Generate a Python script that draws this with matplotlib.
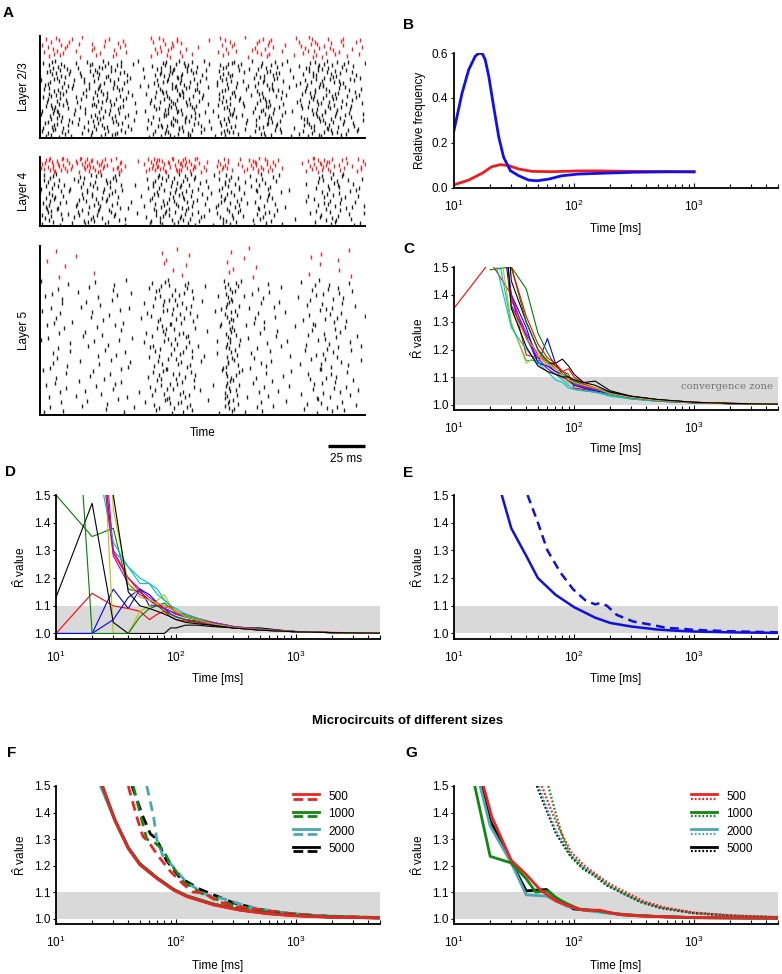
import numpy as np
import matplotlib
matplotlib.use('Agg')
import matplotlib.pyplot as plt
from matplotlib.lines import Line2D

plt.rcParams['font.family'] = ['Liberation Sans', 'DejaVu Sans']
plt.rcParams['mathtext.fontset'] = 'custom'
plt.rcParams['mathtext.rm'] = 'Liberation Sans'
plt.rcParams['mathtext.it'] = 'Liberation Sans:italic'
plt.rcParams['mathtext.bf'] = 'Liberation Sans:bold'
plt.rcParams['font.size'] = 8.5

# ---------------- DATA ----------------
# Panel A: spike counts per 5 ms bin (0-220 ms), read from the raster
raster_bin_ms = 5
L23_black = [15,25,25,18,10,12,15,22,20,18,20,15,6,4,8,15,22,25,25,22,20,15,10,4,20,25,15,10,8,18,22,20,15,6,5,15,20,22,22,20,18,15,12,8]
L23_red   = [3,5,5,4,2,3,1,3,3,2,4,3,0,0,1,4,5,5,4,3,1,1,1,0,4,5,2,1,2,5,5,3,1,1,2,4,5,5,4,4,3,2,2,3]
L4_black  = [12,15,10,6,5,12,12,12,10,12,10,4,2,2,6,12,14,12,14,14,12,8,6,4,12,14,10,6,4,12,10,8,4,2,1,1,3,8,10,12,10,6,6,6]
L4_red    = [6,8,6,6,3,6,8,6,6,3,6,2,0,1,4,8,7,5,7,8,6,4,3,1,6,5,1,3,5,7,5,4,2,0,0,1,5,6,7,4,3,3,2,5]
L5_black  = [8,10,10,8,3,6,8,8,8,8,10,8,4,2,10,18,22,22,22,20,18,6,4,3,10,45,25,6,8,12,10,8,6,5,3,6,12,14,16,14,14,10,6,4]
L5_red    = [1,0,2,1,1,0,0,1,0,0,0,0,0,0,0,0,2,2,1,2,1,0,0,0,0,3,1,1,2,1,0,0,0,0,0,0,2,1,1,0,2,1,1,0]
layer_names = ['Layer 2/3', 'Layer 4', 'Layer 5']

# Panel B
B_blue_t = [10, 11.66, 13.25, 15.0, 16.0, 17.2, 18.2, 19.5, 21.4, 23.6, 25.9, 29.5, 34.6, 41.9, 49.2, 61.5, 79.5, 109, 160, 312, 600, 1000]
B_blue_v = [0.255, 0.42, 0.525, 0.585, 0.598, 0.598, 0.57, 0.495, 0.36, 0.225, 0.135, 0.075, 0.0525, 0.033, 0.03, 0.0375, 0.0525, 0.06, 0.063, 0.068, 0.07, 0.07]
B_red_t = [10, 13.25, 17.2, 20.7, 24.3, 28.6, 34.6, 44.6, 65.6, 109, 164, 300, 600, 1000]
B_red_v = [0.012, 0.033, 0.064, 0.093, 0.102, 0.0975, 0.0825, 0.072, 0.0705, 0.074, 0.074, 0.072, 0.071, 0.07]

# Panels C and D: R-hat of individual chains on a common time grid
T_grid = [10, 20, 30, 40, 50, 60, 70, 80, 90, 100, 120, 150, 200, 300, 500, 1000, 2000, 5000]
chain_colors = ['b', 'g', 'r', 'c', 'm', 'y', 'k']
nan = np.nan
C_chains = [
    [nan, 2.0, 1.36, 1.25, 1.15, 1.24, 1.15, 1.11, 1.09, 1.08, 1.065, 1.05, 1.035, 1.022, 1.012, 1.006, 1.003, 1.001],
    [nan, 1.49, 1.50, 1.42, 1.26, 1.19, 1.14, 1.12, 1.10, 1.085, 1.07, 1.055, 1.045, 1.03, 1.017, 1.008, 1.004, 1.001],
    [1.35, 1.52, 1.40, 1.18, 1.17, 1.16, 1.14, 1.12, 1.11, 1.06, 1.055, 1.045, 1.038, 1.025, 1.015, 1.008, 1.004, 1.001],
    [nan, 1.7, 1.29, 1.16, 1.16, 1.13, 1.11, 1.09, 1.07, 1.055, 1.05, 1.045, 1.03, 1.02, 1.012, 1.006, 1.003, 1.001],
    [nan, 2.2, 1.38, 1.26, 1.18, 1.15, 1.12, 1.10, 1.085, 1.075, 1.06, 1.05, 1.04, 1.025, 1.015, 1.007, 1.003, 1.001],
    [nan, 1.8, 1.30, 1.15, 1.18, 1.14, 1.12, 1.10, 1.08, 1.07, 1.06, 1.05, 1.035, 1.022, 1.013, 1.006, 1.003, 1.001],
    [nan, 2.5, 1.45, 1.30, 1.20, 1.15, 1.15, 1.165, 1.14, 1.11, 1.08, 1.085, 1.05, 1.03, 1.018, 1.008, 1.004, 1.001],
    [nan, 1.9, 1.40, 1.28, 1.15, 1.14, 1.12, 1.11, 1.09, 1.07, 1.06, 1.05, 1.04, 1.025, 1.014, 1.006, 1.003, 1.001],
    [nan, 2.6, 1.50, 1.30, 1.20, 1.16, 1.13, 1.11, 1.10, 1.09, 1.07, 1.06, 1.045, 1.028, 1.016, 1.007, 1.003, 1.001],
    [nan, 2.1, 1.50, 1.32, 1.22, 1.17, 1.15, 1.12, 1.13, 1.10, 1.075, 1.06, 1.04, 1.025, 1.016, 1.008, 1.004, 1.002],
    [nan, 1.6, 1.28, 1.20, 1.15, 1.12, 1.09, 1.08, 1.06, 1.055, 1.05, 1.045, 1.035, 1.02, 1.012, 1.006, 1.003, 1.001],
    [nan, 2.0, 1.40, 1.24, 1.17, 1.13, 1.11, 1.10, 1.09, 1.08, 1.065, 1.055, 1.04, 1.025, 1.014, 1.007, 1.003, 1.001],
    [nan, 2.3, 1.35, 1.24, 1.19, 1.15, 1.13, 1.11, 1.09, 1.08, 1.07, 1.06, 1.04, 1.026, 1.015, 1.007, 1.003, 1.001],
    [nan, 2.4, 1.35, 1.21, 1.14, 1.12, 1.11, 1.10, 1.10, 1.09, 1.08, 1.07, 1.045, 1.03, 1.018, 1.008, 1.004, 1.001],
]
D_chains = [
    [1.0, 1.0, 1.16, 1.09, 1.16, 1.10, 1.10, 1.09, 1.07, 1.06, 1.05, 1.04, 1.03, 1.02, 1.013, 1.006, 1.003, 1.001],
    [1.5, 1.35, 1.38, 1.16, 1.15, 1.12, 1.10, 1.08, 1.07, 1.06, 1.05, 1.045, 1.035, 1.022, 1.013, 1.006, 1.003, 1.001],
    [1.0, 1.145, 1.10, 1.09, 1.08, 1.05, 1.07, 1.08, 1.06, 1.05, 1.045, 1.04, 1.03, 1.02, 1.012, 1.006, 1.003, 1.001],
    [nan, 2.0, 1.30, 1.24, 1.18, 1.18, 1.16, 1.12, 1.10, 1.08, 1.065, 1.05, 1.04, 1.025, 1.014, 1.007, 1.003, 1.001],
    [nan, 2.2, 1.30, 1.20, 1.16, 1.13, 1.11, 1.10, 1.09, 1.08, 1.06, 1.05, 1.04, 1.025, 1.015, 1.007, 1.003, 1.001],
    [nan, 2.5, 1.0, 1.0, 1.08, 1.10, 1.12, 1.14, 1.10, 1.08, 1.06, 1.05, 1.035, 1.022, 1.013, 1.006, 1.003, 1.001],
    [1.13, 1.47, 1.04, 1.0, 1.0, 1.0, 1.0, 1.0, 1.02, 1.02, 1.03, 1.03, 1.025, 1.02, 1.02, 1.006, 1.003, 1.001],
    [1.0, 1.0, 1.05, 1.13, 1.16, 1.14, 1.11, 1.09, 1.08, 1.07, 1.06, 1.05, 1.035, 1.022, 1.012, 1.006, 1.003, 1.001],
    [3.0, 1.0, 1.0, 1.0, 1.06, 1.09, 1.10, 1.11, 1.09, 1.08, 1.06, 1.05, 1.04, 1.025, 1.014, 1.007, 1.003, 1.001],
    [nan, 2.0, 1.29, 1.20, 1.15, 1.12, 1.10, 1.09, 1.10, 1.07, 1.07, 1.055, 1.04, 1.025, 1.015, 1.007, 1.004, 1.001],
    [nan, 1.7, 1.33, 1.24, 1.20, 1.18, 1.14, 1.12, 1.10, 1.09, 1.07, 1.055, 1.04, 1.025, 1.015, 1.007, 1.003, 1.001],
    [nan, 1.9, 1.28, 1.18, 1.14, 1.12, 1.11, 1.09, 1.08, 1.07, 1.06, 1.05, 1.04, 1.025, 1.015, 1.007, 1.003, 1.001],
    [nan, 3.0, 1.45, 1.18, 1.13, 1.12, 1.11, 1.10, 1.09, 1.08, 1.06, 1.05, 1.035, 1.022, 1.013, 1.006, 1.003, 1.001],
    [nan, 2.2, 1.50, 1.15, 1.10, 1.09, 1.08, 1.07, 1.06, 1.05, 1.04, 1.035, 1.03, 1.02, 1.012, 1.006, 1.003, 1.001],
]

# Panel E
E_solid_t = [25, 30, 40, 50, 70, 100, 150, 200, 300, 500, 700, 1000, 2000, 5000]
E_solid_v = [1.5, 1.38, 1.28, 1.2, 1.14, 1.095, 1.057, 1.038, 1.025, 1.014, 1.01, 1.007, 1.004, 1.002]
E_dash_t = [41, 50, 60, 77, 98, 124, 150, 165, 188, 227, 312, 460, 590, 800, 1000, 2000, 5000]
E_dash_v = [1.5, 1.40, 1.30, 1.22, 1.16, 1.12, 1.105, 1.11, 1.10, 1.067, 1.043, 1.03, 1.02, 1.017, 1.013, 1.008, 1.004]

# Panels F and G: microcircuit sizes
sizes = ['500', '1000', '2000', '5000']
size_colors = ['#ee2222', '#118811', '#4aa8b2', '#000000']
F_solid = {
    '5000': ([24.0, 31, 40, 50, 69, 95, 123, 205, 340, 570, 950, 2000, 5000],
             [1.5, 1.372, 1.268, 1.207, 1.155, 1.111, 1.086, 1.055, 1.034, 1.021, 1.013, 1.006, 1.003]),
    '2000': ([23.5, 31, 40, 50, 69, 95, 123, 205, 340, 570, 950, 2000, 5000],
             [1.5, 1.368, 1.266, 1.204, 1.153, 1.11, 1.085, 1.054, 1.033, 1.02, 1.012, 1.006, 1.003]),
    '1000': ([24.2, 31, 40, 50, 69, 95, 123, 205, 340, 570, 950, 2000, 5000],
             [1.5, 1.37, 1.266, 1.205, 1.154, 1.11, 1.085, 1.054, 1.033, 1.02, 1.012, 1.006, 1.003]),
    '500': ([24.5, 31, 40, 50, 69, 95, 123, 205, 340, 570, 950, 2000, 5000],
            [1.5, 1.37, 1.264, 1.203, 1.152, 1.108, 1.083, 1.052, 1.032, 1.019, 1.011, 1.005, 1.003]),
}
F_dash = {
    '5000': ([43, 53, 61, 69, 83, 108, 160, 205, 300, 500, 900, 2000, 5000],
             [1.5, 1.385, 1.32, 1.30, 1.22, 1.154, 1.11, 1.09, 1.06, 1.035, 1.018, 1.008, 1.003]),
    '2000': ([57, 65, 69, 78, 89, 123, 180, 265, 400, 700, 1500, 5000],
             [1.5, 1.385, 1.30, 1.235, 1.21, 1.135, 1.09, 1.072, 1.045, 1.025, 1.011, 1.004]),
    '1000': ([44, 50, 57, 65, 78, 89, 115, 160, 220, 300, 470, 780, 1470, 5000],
             [1.5, 1.40, 1.30, 1.29, 1.26, 1.21, 1.14, 1.097, 1.072, 1.05, 1.035, 1.022, 1.011, 1.004]),
    '500': ([40, 47, 53, 59, 70, 89, 115, 139, 170, 220, 300, 470, 780, 1470, 5000],
            [1.5, 1.385, 1.31, 1.29, 1.24, 1.18, 1.13, 1.10, 1.097, 1.066, 1.047, 1.035, 1.022, 1.01, 1.004]),
}
G_solid = {
    '5000': ([17, 20, 31, 40, 59, 70, 99, 150, 250, 500, 1000, 5000],
             [1.5, 1.37, 1.2, 1.105, 1.11, 1.08, 1.037, 1.03, 1.015, 1.008, 1.004, 1.002]),
    '2000': ([16.5, 20, 30, 40, 59, 87, 130, 200, 400, 1000, 5000],
             [1.5, 1.35, 1.21, 1.09, 1.085, 1.047, 1.03, 1.02, 1.01, 1.004, 1.002]),
    '1000': ([14.9, 20, 30, 40, 48, 60, 70, 87, 112, 160, 250, 500, 1000, 5000],
             [1.5, 1.235, 1.21, 1.15, 1.10, 1.105, 1.08, 1.057, 1.035, 1.03, 1.015, 1.008, 1.004, 1.002]),
    '500': ([17.6, 20.6, 30, 40, 52, 71, 92, 119, 164, 211, 350, 1000, 5000],
            [1.5, 1.385, 1.22, 1.166, 1.11, 1.066, 1.047, 1.032, 1.032, 1.02, 1.01, 1.004, 1.002]),
}
G_dot = {
    '5000': ([49, 60, 71, 92, 119, 145, 188, 257, 357, 530, 990, 2100, 5000],
             [1.5, 1.40, 1.32, 1.24, 1.19, 1.165, 1.125, 1.095, 1.063, 1.04, 1.021, 1.011, 1.005]),
    '2000': ([51, 60, 71, 92, 119, 145, 188, 257, 357, 530, 990, 2100, 5000],
             [1.5, 1.41, 1.33, 1.245, 1.195, 1.17, 1.13, 1.097, 1.066, 1.042, 1.022, 1.012, 1.006]),
    '1000': ([61, 70, 80, 95, 120, 150, 200, 270, 380, 560, 1000, 2100, 5000],
             [1.5, 1.40, 1.31, 1.23, 1.185, 1.16, 1.12, 1.09, 1.06, 1.04, 1.021, 1.011, 1.005]),
    '500': ([54, 63, 75, 95, 122, 150, 200, 270, 380, 560, 1000, 2100, 5000],
            [1.5, 1.42, 1.34, 1.25, 1.20, 1.17, 1.13, 1.10, 1.066, 1.043, 1.023, 1.012, 1.006]),
}

# ---------------- FIGURE ----------------
W, H = 782, 974
fig = plt.figure(figsize=(W / 100, H / 100), dpi=100)


def ax_px(x0, y0, x1, y1):
    return fig.add_axes([x0 / W, 1 - y1 / H, (x1 - x0) / W, (y1 - y0) / H])


def vdc(n, base):
    # van der Corput radical inverse (deterministic low-discrepancy sequence)
    v, denom = 0.0, 1.0
    while n > 0:
        denom *= base
        n, rem = divmod(n, base)
        v += rem / denom
    return v


def raster(ax, counts, lo, hi, color, start, ms):
    # spikes spread inside each 5 ms bin with a Halton (2,3) sequence
    ts, ys = [], []
    g = start
    for i, n in enumerate(counts):
        for k in range(n):
            g += 1
            ts.append(raster_bin_ms * i + raster_bin_ms * vdc(g, 2))
            ys.append(lo + (hi - lo) * vdc(g, 3))
    ax.plot(ts, ys, ls='none', marker='|', ms=ms, mew=1.0, color=color)


raster_boxes = [(40, 36, 365, 138), (40, 157, 365, 226), (40, 246, 365, 415)]
raster_data = [(L23_black, L23_red, 0.76, 0.79), (L4_black, L4_red, 0.76, 0.78), (L5_black, L5_red, 0.80, 0.81)]
raster_axes = []
for j, (box, (blk, red, bhi, rlo)) in enumerate(zip(raster_boxes, raster_data)):
    ax = ax_px(*box)
    raster(ax, blk, 0.01, bhi, '#222222', 17 + 1000 * j, 2.2)
    raster(ax, red, rlo, 0.99, '#f02828', 5000 + 311 * j, 2.4)
    ax.set_xlim(0, 220)
    ax.set_ylim(0, 1)
    ax.set_xticks([])
    ax.set_yticks([])
    for s in ['top', 'right']:
        ax.spines[s].set_visible(False)
    for s in ['left', 'bottom']:
        ax.spines[s].set_linewidth(1.4)
    fig.text(24 / W, 1 - ((box[1] + box[3]) / 2) / H, layer_names[j], rotation=90,
             ha='center', va='center', size=8.5)
    raster_axes.append(ax)

axL5 = raster_axes[2]
tr = axL5.get_xaxis_transform()
axL5.plot([195, 220], [-0.183, -0.183], transform=tr, color='k', lw=2.4, clip_on=False,
          solid_capstyle='butt')
axL5.text(207.5, -0.26, '25 ms', transform=tr, ha='center', va='center', size=8.5)
axL5.text(0.5, -0.107, 'Time', transform=axL5.transAxes, ha='center', va='center', size=8.5)


def style_log(ax, xlab_y, ylab_x):
    ax.set_xscale('log')
    ax.set_xlim(10, 5000)
    for s in ['top', 'right']:
        ax.spines[s].set_visible(False)
    for s in ['left', 'bottom']:
        ax.spines[s].set_linewidth(1.3)
    ax.tick_params(axis='x', which='both', direction='in', pad=8, labelsize=8.5)
    ax.tick_params(axis='x', which='major', length=3.5, width=0.8)
    ax.tick_params(axis='x', which='minor', length=2.8, width=0.8)
    ax.tick_params(axis='y', direction='out', length=2.2, width=0.8, pad=2, labelsize=8.5)
    ax.set_xlabel('Time [ms]', size=8.5)
    ax.xaxis.set_label_coords(0.5, xlab_y)
    ax.yaxis.set_label_coords(ylab_x, 0.5)


def style_rhat(ax, xlab_y, ylab_x):
    style_log(ax, xlab_y, ylab_x)
    ax.set_ylim(0.98, 1.5)
    ax.set_yticks([1.0, 1.1, 1.2, 1.3, 1.4, 1.5])
    ax.set_yticklabels(['1.0', '1.1', '1.2', '1.3', '1.4', '1.5'])
    ax.axhspan(1.0, 1.1, color='#d9d9d9', lw=0, zorder=0)
    ax.set_ylabel(r'$\hat{\mathrm{R}}$ value', size=8.5)


# Panel B
axB = ax_px(454, 53, 778, 187.5)
axB.plot(B_red_t, B_red_v, color='#ee1c1c', lw=2.0)
axB.plot(B_blue_t, B_blue_v, color='#1010ee', lw=2.0)
axB.set_ylim(0, 0.6)
axB.set_yticks([0.0, 0.2, 0.4, 0.6])
axB.set_yticklabels(['0.0', '0.2', '0.4', '0.6'])
axB.set_ylabel('Relative frequency', size=8.5)
style_log(axB, -0.267, -0.085)

# Panel C
axC = ax_px(454, 267, 778, 410)
for i, vals in enumerate(C_chains):
    axC.plot(T_grid, vals, color=chain_colors[i % 7], lw=0.8)
axC.text(4550, 1.067, 'convergence zone', ha='right', va='center', size=7.2,
         family='DejaVu Serif', color='#707070')
style_rhat(axC, -0.229, -0.085)

# Panel D
axD = ax_px(56, 495, 380, 639)
for i, vals in enumerate(D_chains):
    axD.plot(T_grid, vals, color=chain_colors[i % 7], lw=0.8)
style_rhat(axD, -0.234, -0.085)

# Panel E
axE = ax_px(454, 495, 778, 639)
axE.plot(E_solid_t, E_solid_v, color='#1010dd', lw=1.8)
axE.plot(E_dash_t, E_dash_v, color='#1010dd', lw=1.8, ls=(0, (3.5, 2.2)))
style_rhat(axE, -0.234, -0.085)

# Panels F and G
axF = ax_px(56, 786, 380, 924)
axG = ax_px(454, 786, 778, 924)
for s in ['5000', '2000', '1000', '500']:
    c = size_colors[sizes.index(s)]
    axF.plot(*F_dash[s], color=c, lw=2.0, ls=(0, (3.5, 2.2)))
for s in ['5000', '2000', '1000', '500']:
    c = size_colors[sizes.index(s)]
    axF.plot(*F_solid[s], color=c, lw=2.0)
for s in ['5000', '2000', '1000', '500']:
    c = size_colors[sizes.index(s)]
    axG.plot(*G_dot[s], color=c, lw=1.6, ls=(0, (0.8, 0.9)))
for s in ['5000', '2000', '1000', '500']:
    c = size_colors[sizes.index(s)]
    axG.plot(*G_solid[s], color=c, lw=2.0)
style_rhat(axF, -0.258, -0.085)
style_rhat(axG, -0.258, -0.085)


def manual_legend(ax, style2, lw2):
    x0, x1, xt = 0.731, 0.812, 0.84
    for i, (lab, col) in enumerate(zip(sizes, size_colors)):
        y = 0.942 - i * 0.127
        ax.add_line(Line2D([x0, x1], [y, y], transform=ax.transAxes, color=col, lw=2.0))
        ax.add_line(Line2D([x0, x1], [y - 0.034, y - 0.034], transform=ax.transAxes,
                           color=col, lw=lw2, ls=style2))
        ax.text(xt, y - 0.02, lab, transform=ax.transAxes, ha='left', va='center', size=8.5)


manual_legend(axF, (0, (3.5, 1.6)), 2.0)
manual_legend(axG, (0, (0.8, 0.9)), 1.6)

# Panel letters and title
letters = [('A', 3, 6), ('B', 403, 18), ('C', 403, 242), ('D', 5, 465),
           ('E', 403, 466), ('F', 7, 746), ('G', 405, 746)]
for lab, x, y in letters:
    fig.text(x / W, 1 - y / H, lab, ha='left', va='top', weight='bold', size=11)
fig.text(408 / W, 1 - 721 / H, 'Microcircuits of different sizes', ha='center', va='center',
         weight='bold', size=9.5)

fig.savefig('out.png', dpi=100)
